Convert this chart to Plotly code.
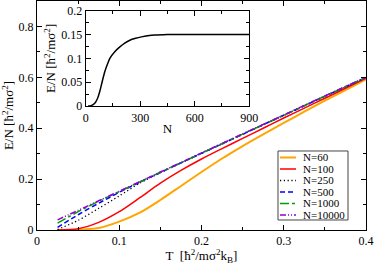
import plotly.graph_objects as go

# Main panel data: temperature grid and E/N for each system size
T = [0.025, 0.05, 0.075, 0.1, 0.125, 0.15, 0.175, 0.2, 0.225, 0.25,
     0.275, 0.3, 0.325, 0.35, 0.375, 0.4]
E_60 = [0.000, 0.001, 0.008, 0.033, 0.068, 0.118, 0.173, 0.228, 0.281, 0.330,
        0.376, 0.421, 0.465, 0.508, 0.550, 0.592]
E_100 = [0.000, 0.005, 0.030, 0.072, 0.127, 0.184, 0.234, 0.279, 0.320, 0.360,
         0.400, 0.440, 0.479, 0.518, 0.557, 0.597]
E_250 = [0.002, 0.038, 0.085, 0.134, 0.184, 0.225, 0.263, 0.301, 0.338, 0.376,
         0.413, 0.450, 0.488, 0.525, 0.562, 0.599]
E_500 = [0.010, 0.060, 0.105, 0.148, 0.188, 0.226, 0.264, 0.301, 0.339, 0.376,
         0.414, 0.451, 0.488, 0.526, 0.563, 0.599]
E_1000 = [0.027, 0.072, 0.113, 0.151, 0.189, 0.227, 0.264, 0.302, 0.339, 0.377,
          0.414, 0.451, 0.489, 0.526, 0.563, 0.599]
E_10000 = [0.040, 0.077, 0.115, 0.152, 0.190, 0.228, 0.265, 0.303, 0.340, 0.378,
           0.415, 0.452, 0.490, 0.527, 0.564, 0.600]

# Inset data: E/N versus N
N_inset = [13, 30, 50, 65, 77, 90, 105, 120, 133, 160, 188, 215, 243, 275, 307,
           350, 390, 450, 550, 700, 900]
E_inset = [0.000, 0.001, 0.006, 0.016, 0.030, 0.050, 0.072, 0.088, 0.100, 0.114,
           0.124, 0.132, 0.138, 0.142, 0.145, 0.148, 0.149, 0.150, 0.150, 0.150, 0.150]

labels = ["N=60", "N=100", "N=250", "N=500", "N=1000", "N=10000"]
values = [E_60, E_100, E_250, E_500, E_1000, E_10000]
colors = ["#FFA500", "#FF0000", "#000000", "#0000FF", "#00A000", "#9400D3"]
dashes = ["solid", "solid", "1.2px,2.6px", "5px,3px", "dashdot", "6px,2px,1px,2px,1px,2px"]
widths = [2, 1.5, 1.3, 1.5, 1.5, 1.5]

FONT = "Liberation Serif"
fig = go.Figure()
for name, ys, col, dash, w in zip(labels, values, colors, dashes, widths):
    fig.add_trace(go.Scatter(x=T, y=ys, name=name, mode="lines", showlegend=False,
                             line=dict(color=col, width=w, dash=dash,
                                       shape="spline", smoothing=0.8),
                             xaxis="x", yaxis="y"))

fig.add_trace(go.Scatter(x=N_inset, y=E_inset, mode="lines", showlegend=False,
                         line=dict(color="black", width=1.5, shape="spline", smoothing=0.8),
                         xaxis="x2", yaxis="y2"))

# Hand-built legend box (compact, like the reference)
shapes = [dict(type="rect", xref="paper", yref="paper", x0=0.7325, x1=0.9453,
               y0=0.0437, y1=0.345, line=dict(color="#444", width=1),
               fillcolor="white", layer="above")]
annotations = []
row_y0, row_step = 0.3166, 0.0502
for i, (name, col, dash, w) in enumerate(zip(labels, colors, dashes, widths)):
    yy = row_y0 - i * row_step
    shapes.append(dict(type="line", xref="paper", yref="paper", x0=0.7386, x1=0.7872,
                       y0=yy, y1=yy, line=dict(color=col, width=w, dash=dash),
                       layer="above"))
    annotations.append(dict(xref="paper", yref="paper", x=0.8010, y=yy, text=name,
                            showarrow=False, xanchor="left", yanchor="middle",
                            font=dict(family=FONT, size=11, color="black")))

axis_common = dict(showline=True, linecolor="black", linewidth=1, mirror="ticks",
                   ticks="inside", ticklen=5, tickcolor="black", showgrid=False,
                   zeroline=False, tickfont=dict(family=FONT, size=12, color="black"))

fig.update_layout(
    width=374, height=265,
    margin=dict(l=37, r=8, t=1, b=35, autoexpand=False),
    paper_bgcolor="white", plot_bgcolor="white",
    font=dict(family=FONT, color="black"),
    xaxis=dict(range=[0, 0.4], dtick=0.1, tick0=0,
               minor=dict(dtick=0.05, ticks="inside", ticklen=3, tickcolor="black"),
               title=dict(text="T  [ħ<sup>2</sup>/mσ<sup>2</sup>k<sub>B</sub>]",
                          font=dict(family=FONT, size=13), standoff=6),
               domain=[0, 1], **axis_common),
    yaxis=dict(range=[0, 0.9], dtick=0.2, tick0=0,
               minor=dict(dtick=0.1, ticks="inside", ticklen=3, tickcolor="black"),
               title=dict(text="E/N [ħ<sup>2</sup>/mσ<sup>2</sup>]",
                          font=dict(family=FONT, size=13), standoff=2),
               domain=[0, 1], **axis_common),
    xaxis2=dict(range=[0, 900], dtick=300, tick0=0, anchor="y2",
                domain=[0.148, 0.645],
                minor=dict(dtick=150, ticks="inside", ticklen=3, tickcolor="black"),
                title=dict(text="N", font=dict(family=FONT, size=13), standoff=0),
                **axis_common),
    yaxis2=dict(range=[0, 0.2], dtick=0.05, tick0=0, anchor="x2",
                domain=[0.541, 0.958],
                minor=dict(dtick=0.025, ticks="inside", ticklen=3, tickcolor="black"),
                title=dict(text="E/N [ħ<sup>2</sup>/mσ<sup>2</sup>]",
                           font=dict(family=FONT, size=13), standoff=2),
                **axis_common),
    shapes=shapes,
    annotations=annotations,
    showlegend=False,
)

fig.write_html("out.html", config={"displayModeBar": False},
               post_script="document.body.style.margin='0';")
